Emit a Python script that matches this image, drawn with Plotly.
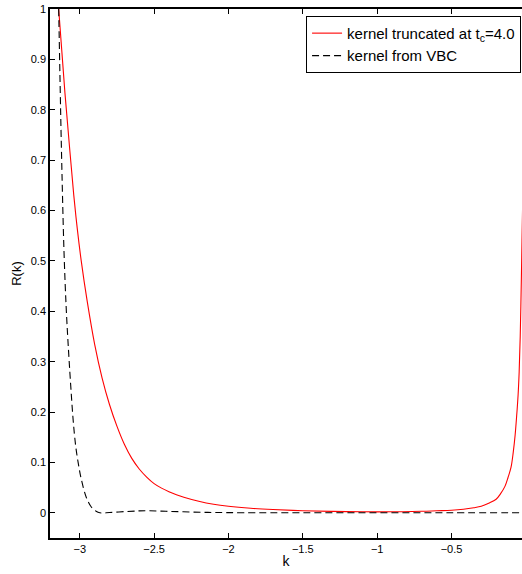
import plotly.graph_objects as go

# Truncated kernel R(k), t_c = 4.0
k_trunc = [-3.1416, -3.10, -3.067, -3.04, -3.017, -2.99, -2.95, -2.90, -2.85,
           -2.80, -2.75, -2.70, -2.65, -2.60, -2.55, -2.50, -2.45, -2.40,
           -2.35, -2.30, -2.20, -2.10, -2.00, -1.85, -1.70, -1.5, -1.3, -1.1,
           -0.9, -0.7, -0.6, -0.5, -0.42, -0.35, -0.3, -0.25, -0.2, -0.17,
           -0.14, -0.12, -0.10, -0.085, -0.072, -0.062, -0.052, -0.045,
           -0.038, -0.030, -0.026, -0.02]
r_trunc = [1.000, 0.835, 0.72, 0.63, 0.565, 0.50, 0.42, 0.335, 0.268,
           0.215, 0.172, 0.136, 0.108, 0.087, 0.071, 0.058, 0.049, 0.042,
           0.036, 0.031, 0.023, 0.017, 0.013, 0.009, 0.0065, 0.0042, 0.0028, 0.002,
           0.002, 0.003, 0.004, 0.005, 0.007, 0.010, 0.013, 0.019, 0.027, 0.038,
           0.053, 0.070, 0.090, 0.120, 0.155, 0.192, 0.235, 0.28,
           0.35, 0.47, 0.54, 0.64]

# Kernel from VBC
k_vbc = [-3.1416, -3.13, -3.123, -3.106, -3.090, -3.074, -3.059, -3.044, -3.027,
         -3.008, -2.989, -2.955, -2.921, -2.89, -2.865, -2.80, -2.686, -2.60,
         -2.53, -2.42, -2.305, -2.18, -2.08, -1.9, -1.5, -1.0, -0.5, 0.0]
r_vbc = [1.00, 0.82, 0.72, 0.52, 0.40, 0.315, 0.245, 0.183, 0.132,
         0.095, 0.066, 0.030, 0.011, 0.003, 0.0, 0.0005, 0.0026, 0.0038,
         0.004, 0.003, 0.002, 0.001, 0.0006, 0.0002, 0.0, 0.0, 0.0, 0.0]

x_ticks = [-3, -2.5, -2, -1.5, -1, -0.5]
y_ticks = [0, 0.1, 0.2, 0.3, 0.4, 0.5, 0.6, 0.7, 0.8, 0.9, 1]
y_tick_text = ["0", "0.1", "0.2", "0.3", "0.4", "0.5", "0.6", "0.7", "0.8", "0.9", "1"]

FONT = "Liberation Sans, Arial, sans-serif"

fig = go.Figure()
fig.add_trace(go.Scatter(
    x=k_trunc, y=r_trunc, mode="lines", line_shape="spline",
    line=dict(color="#ff0000", width=1.1),
    name="kernel truncated at t<sub>c</sub>=4.0"))
fig.add_trace(go.Scatter(
    x=k_vbc, y=r_vbc, mode="lines", line_shape="spline",
    line=dict(color="black", width=1.1, dash="7px,4px"),
    name="kernel from VBC"))

fig.update_layout(
    width=522, height=574,
    margin=dict(l=50, r=0, t=9, b=36),
    paper_bgcolor="white", plot_bgcolor="white",
    font=dict(family=FONT, size=11, color="black"),
    legend=dict(
        x=0.998, y=0.987, xanchor="right", yanchor="top",
        bordercolor="black", borderwidth=1, bgcolor="white",
        font=dict(size=15), tracegroupgap=0,
    ),
    xaxis=dict(
        range=[-3.2, -0.026], tickvals=x_ticks,
        ticks="inside", ticklen=5, tickcolor="black",
        showline=True, linecolor="black", linewidth=1.5, mirror="ticks",
        showgrid=False, zeroline=False,
        title=dict(text="k", font=dict(size=14), standoff=2),
    ),
    yaxis=dict(
        range=[-0.05, 1], tickvals=y_ticks, ticktext=y_tick_text,
        ticks="inside", ticklen=5, tickcolor="black",
        showline=True, linecolor="black", linewidth=1.5,
        showgrid=False, zeroline=False,
        title=dict(text="R(k)", font=dict(size=13), standoff=6),
    ),
)

fig.write_html("out.html")
